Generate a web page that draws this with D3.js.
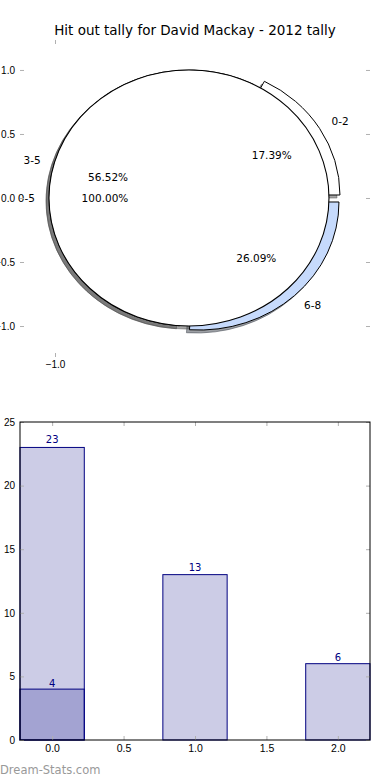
<!DOCTYPE html>
<html>
<head>
<meta charset="utf-8">
<script src="https://cdn.jsdelivr.net/npm/d3@7"></script>
<style>
  body { margin: 0; background: #fff; }
  svg { display: block; font-family: "DejaVu Sans", sans-serif; }
  .tick line { stroke: #b0b0b0; }
  .tick text { fill: #000; }
</style>
</head>
<body>
<div class="chart"></div>
<script>
/*** DATA ***/
const titleText = 'Hit out tally for David Mackay - 2012 tally';
// pie: hit out buckets
const pieLabels = ['0-2', '3-5', '6-8'];
const pieCounts = [4, 13, 6];
const pieColors = ['#ffffff', '#ffffff', '#c6dafc'];
// the full-circle pie drawn on top
const totalLabels = ['0-5'];
const totalCounts = [23];
// bars
const barCats = [0, 1, 2];
const barValues = [23, 13, 6];
const overlayCats = [0];
const overlayValues = [4];
// ticks
const pieYTicks = [-1, -0.5, 0, 0.5, 1];
const pieXTicks = [-1];
const barYTicks = [0, 5, 10, 15, 20, 25];
const barXTicks = [0, 0.5, 1, 1.5, 2];

/*** LAYOUT ***/
const width = 390, height = 780;
const svg = d3.select('.chart')
  .append('svg')
  .attr('width', width)
  .attr('height', height);

svg.append('text')
  .attr('x', 195)
  .attr('y', 34.5)
  .attr('text-anchor', 'middle')
  .style('font-size', '13.5px')
  .text(titleText);

/*** PIE ***/
const pieBox = { left: 20, right: 370, top: 40, bottom: 357 };
const xPie = d3.scaleLinear().domain([-1.25, 1.25]).range([pieBox.left, pieBox.right]);
const yPie = d3.scaleLinear().domain([-1.242, 1.234]).range([pieBox.bottom, pieBox.top]);
const pieCenterX = -0.043;  // data units
const cx = xPie(pieCenterX), cy = yPie(0);
const rx = xPie(1) - xPie(0), ry = yPie(0) - yPie(1);

// exploded slices offset (px) and shadow offset (px)
const explode = { '0-2': [11, -3], '6-8': [10, 4] };
const shadowOff = [-3, 3];

const pie = d3.pie().sort(null)
  .startAngle(Math.PI / 2)
  .endAngle(Math.PI / 2 - 2 * Math.PI);
const arc = d3.arc().innerRadius(0).outerRadius(1);

const slices = pie(pieCounts).map((d, i) => ({ ...d, label: pieLabels[i], color: pieColors[i] }));
const totals = pie(totalCounts).map((d, i) => ({ ...d, label: totalLabels[i], color: '#ffffff' }));

const off = d => explode[d.label] || [0, 0];
const tr = (d, extra) => {
  const o = off(d);
  return `translate(${cx + o[0] + extra[0]},${cy + o[1] + extra[1]}) scale(${rx},${ry})`;
};

const pieG = svg.append('g');

// shadows below all wedges
pieG.selectAll('.shadow')
  .data(slices.concat(totals))
  .join('path')
  .attr('class', 'shadow')
  .attr('d', arc)
  .attr('transform', d => tr(d, shadowOff))
  .attr('vector-effect', 'non-scaling-stroke')
  .style('fill', d => {
    const c = d3.rgb(d.color);
    return `rgb(${c.r * 0.3},${c.g * 0.3},${c.b * 0.3})`;
  })
  .style('fill-opacity', 0.5)
  .style('stroke', d => {
    const c = d3.rgb(d.color);
    return `rgb(${c.r * 0.3},${c.g * 0.3},${c.b * 0.3})`;
  })
  .style('stroke-opacity', 0.5)
  .style('stroke-width', 1);

pieG.selectAll('.wedge')
  .data(slices)
  .join('path')
  .attr('class', 'wedge')
  .attr('d', arc)
  .attr('transform', d => tr(d, [0, 0]))
  .attr('vector-effect', 'non-scaling-stroke')
  .style('fill', d => d.color)
  .style('stroke', '#000')
  .style('stroke-width', 1);

pieG.selectAll('.total')
  .data(totals)
  .join('path')
  .attr('class', 'total')
  .attr('d', arc)
  .attr('transform', d => tr(d, [0, 0]))
  .attr('vector-effect', 'non-scaling-stroke')
  .style('fill', '#fff')
  .style('stroke', '#000')
  .style('stroke-width', 1.1);

// labels
function polar(d, r) {
  const a = (d.startAngle + d.endAngle) / 2;
  const o = off(d);
  return [cx + o[0] + Math.sin(a) * r * rx, cy + o[1] - Math.cos(a) * r * ry, Math.sin(a)];
}
const all = slices.concat(totals);
const sum = d3.sum(pieCounts);

pieG.selectAll('.plabel')
  .data(all)
  .join('text')
  .attr('class', 'plabel')
  .attr('x', d => polar(d, 1.1)[0])
  .attr('y', d => polar(d, 1.1)[1])
  .attr('dy', '0.35em')
  .attr('text-anchor', d => polar(d, 1.1)[2] > 0 ? 'start' : 'end')
  .style('font-size', '10.5px')
  .text(d => d.label);

pieG.selectAll('.pct')
  .data(all)
  .join('text')
  .attr('class', 'pct')
  .attr('x', d => polar(d, 0.6)[0])
  .attr('y', d => polar(d, 0.6)[1])
  .attr('dy', '0.35em')
  .attr('text-anchor', 'middle')
  .style('font-size', '10.5px')
  .text(d => (100 * d.value / (d.label === '0-5' ? d3.sum(totalCounts) : sum)).toFixed(2) + '%');

// pie axes (ticks only, no frame)
const fmt1 = d => d3.format('.1f')(d).replace('-', '\u2212');
const pieAx = svg.append('g').style('font-size', '10.5px');
pieAx.append('g')
  .attr('transform', `translate(${pieBox.left},0)`)
  .call(d3.axisLeft(yPie).tickValues(pieYTicks).tickSize(-4).tickPadding(5).tickFormat(fmt1))
  .call(g => g.select('.domain').remove());
pieAx.append('g')
  .attr('transform', `translate(${pieBox.right},0)`)
  .call(d3.axisRight(yPie).tickValues(pieYTicks).tickSize(-4).tickFormat(''))
  .call(g => g.select('.domain').remove());
pieAx.append('g')
  .attr('transform', `translate(0,${pieBox.bottom})`)
  .call(d3.axisBottom(xPie).tickValues(pieXTicks).tickSize(-4).tickPadding(4).tickFormat(fmt1))
  .call(g => g.select('.domain').remove());
pieAx.append('g')
  .attr('transform', `translate(0,${pieBox.top})`)
  .call(d3.axisTop(xPie).tickValues(pieXTicks).tickSize(-4).tickFormat(''))
  .call(g => g.select('.domain').remove());
pieAx.selectAll('text').attr('font-family', null);

/*** BARS ***/
const barBox = { left: 20, right: 370, top: 422, bottom: 740 };
const barW = 0.45;
const xBar = d3.scaleLinear().domain([-0.225, 2.225]).range([barBox.left, barBox.right]);
const yBar = d3.scaleLinear().domain([0, 25]).range([barBox.bottom, barBox.top]);

const barG = svg.append('g');

function drawBars(cats, vals, cls) {
  barG.selectAll('.' + cls)
    .data(vals)
    .join('rect')
    .attr('class', cls)
    .attr('x', (d, i) => xBar(cats[i] - barW / 2))
    .attr('y', d => yBar(d))
    .attr('width', xBar(barW) - xBar(0))
    .attr('height', d => yBar(0) - yBar(d))
    .style('fill', 'navy')
    .style('fill-opacity', 0.2)
    .style('stroke', 'navy')
    .style('stroke-width', 1);

  barG.selectAll('.' + cls + '-lbl')
    .data(vals)
    .join('text')
    .attr('class', cls + '-lbl')
    .attr('x', (d, i) => xBar(cats[i]))
    .attr('y', d => yBar(d * 1.01) - 2)
    .attr('text-anchor', 'middle')
    .style('fill', 'navy')
    .style('font-size', '10px')
    .text(d => d);
}
drawBars(barCats, barValues, 'bar');
drawBars(overlayCats, overlayValues, 'over');

const barAx = svg.append('g').style('font-size', '10px');
barAx.append('g')
  .attr('transform', `translate(${barBox.left},0)`)
  .call(d3.axisLeft(yBar).tickValues(barYTicks).tickSize(-4).tickPadding(5))
  .call(g => g.select('.domain').remove());
barAx.append('g')
  .attr('transform', `translate(${barBox.right},0)`)
  .call(d3.axisRight(yBar).tickValues(barYTicks).tickSize(-4).tickFormat(''))
  .call(g => g.select('.domain').remove());
barAx.append('g')
  .attr('transform', `translate(0,${barBox.bottom})`)
  .style('font-size', '10.5px')
  .call(d3.axisBottom(xBar).tickValues(barXTicks).tickSize(-4).tickPadding(5).tickFormat(d3.format('.1f')))
  .call(g => g.select('.domain').remove());
barAx.append('g')
  .attr('transform', `translate(0,${barBox.top})`)
  .call(d3.axisTop(xBar).tickValues(barXTicks).tickSize(-4).tickFormat(''))
  .call(g => g.select('.domain').remove());
barAx.selectAll('text').attr('font-family', null);

// frame
svg.append('rect')
  .attr('x', barBox.left)
  .attr('y', barBox.top)
  .attr('width', barBox.right - barBox.left)
  .attr('height', barBox.bottom - barBox.top)
  .style('fill', 'none')
  .style('stroke', '#000')
  .style('stroke-width', 1);

// watermark
svg.append('text')
  .attr('x', 0)
  .attr('y', 774)
  .style('fill', '#999')
  .style('font-size', '11.5px')
  .text('Dream-Stats.com');
</script>
</body>
</html>
